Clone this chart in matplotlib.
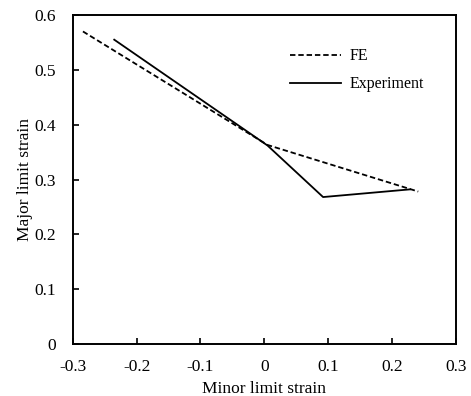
import numpy as np
import matplotlib
matplotlib.use('Agg')
import matplotlib.pyplot as plt

# フォント設定
matplotlib.rcParams['font.family'] = 'Liberation Serif'
matplotlib.rcParams['font.size'] = 12.5

# --- データ ---
fe_minor = [-0.284, 0.005, 0.241]
fe_major = [0.570, 0.363, 0.278]

exp_minor = [-0.235, 0.005, 0.092, 0.228]
exp_major = [0.555, 0.362, 0.268, 0.282]

x_ticks = [-0.3, -0.2, -0.1, 0, 0.1, 0.2, 0.3]
x_ticklabels = ['-0.3', '-0.2', '-0.1', '0', '0.1', '0.2', '0.3']
y_ticks = [0, 0.1, 0.2, 0.3, 0.4, 0.5, 0.6]
y_ticklabels = ['0', '0.1', '0.2', '0.3', '0.4', '0.5', '0.6']

# --- プロット ---
fig = plt.figure(figsize=(4.71, 3.96), dpi=100)
ax = fig.add_axes([0.1544, 0.1313, 0.8136, 0.8308])

ax.plot(fe_minor, fe_major, color='black', lw=1.3, linestyle=(0, (3, 1.6)), label='FE')
ax.plot(exp_minor, exp_major, color='black', lw=1.3, label='Experiment')

ax.set_xlim(-0.3, 0.3)
ax.set_ylim(0, 0.6)
ax.set_xticks(x_ticks)
ax.set_xticklabels(x_ticklabels)
ax.set_yticks(y_ticks)
ax.set_yticklabels(y_ticklabels)
ax.tick_params(direction='in', length=4, width=1.2)
ax.tick_params(axis='x', pad=11)
ax.tick_params(axis='y', pad=12)
for s in ax.spines.values():
    s.set_linewidth(1.4)

ax.set_xlabel('Minor limit strain', labelpad=4)
ax.set_ylabel('Major limit strain', labelpad=1)

ax.legend(loc='upper left', bbox_to_anchor=(0.567, 0.899), frameon=False,
          borderaxespad=0, borderpad=0, fontsize=11.5,
          handlelength=3.2, handletextpad=0.5, labelspacing=0.75)

fig.savefig('out.png', dpi=100)
